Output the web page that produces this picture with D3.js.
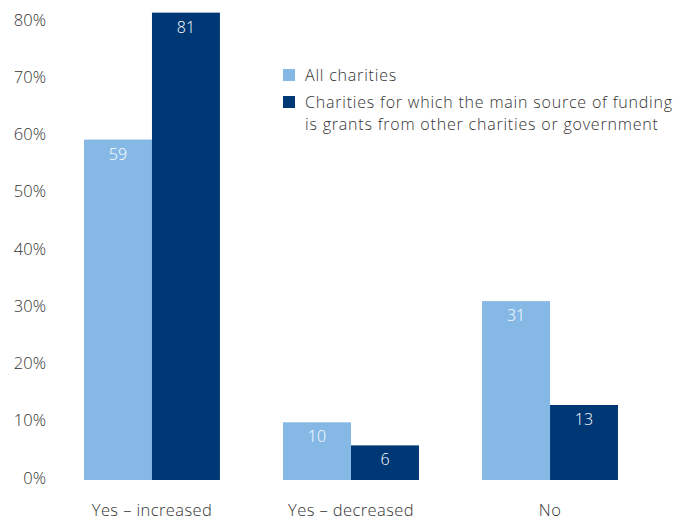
<!DOCTYPE html>
<html>
<head>
<meta charset="utf-8">
<script src="https://cdn.jsdelivr.net/npm/d3@7"></script>
<style>
  html, body { margin: 0; padding: 0; background: #fff; }
  svg { display: block; }
  text { font-family: "Open Sans", sans-serif; font-weight: 300; }
</style>
</head>
<body>
<svg id="chart" width="674" height="523"></svg>
<script>
// Funding change responses, percentages
const categories = ["Yes – increased", "Yes – decreased", "No"];
const seriesNames = [
  "All charities",
  "Charities for which the main source of funding is grants from other charities or government"
];
const allCharities = [59, 10, 31];
const grantFunded = [81, 6, 13];
const yTicks = [0, 10, 20, 30, 40, 50, 60, 70, 80];

const colors = ["#86b8e6", "#003876"];
const series = [allCharities, grantFunded];

const svg = d3.select("#chart");

const x = d3.scaleBand()
  .domain(categories)
  .range([84, 618])
  .paddingInner(0.317)
  .paddingOuter(0);

const xInner = d3.scaleBand()
  .domain(d3.range(series.length))
  .range([0, x.bandwidth()]);

const y = d3.scaleLinear()
  .domain([0, 80])
  .range([480, 18.4]);

// Y axis labels only (no line, no ticks)
const yAxis = d3.axisLeft(y)
  .tickValues(yTicks)
  .tickFormat(d => d + "%")
  .tickSize(0)
  .tickPadding(0);

svg.append("g")
  .attr("transform", "translate(46,0)")
  .call(yAxis)
  .call(g => g.select(".domain").remove())
  .call(g => g.selectAll("text")
    .attr("fill", "#333")
    .style("font-size", "16.5px")
    .style("font-family", "'Open Sans', sans-serif")
    .style("font-weight", "300"))
  .call(g => g.selectAll(".tick").attr("transform", d => `translate(0,${y(d) - 1.6 + d * 0.045})`));

// X axis labels
const xAxis = d3.axisBottom(x).tickSize(0).tickPadding(0);
svg.append("g")
  .attr("transform", "translate(0,504)")
  .call(xAxis)
  .call(g => g.select(".domain").remove())
  .call(g => g.selectAll("text")
    .attr("fill", "#333")
    .style("font-size", "16.5px")
    .style("letter-spacing", "0.4px")
    .style("font-family", "'Open Sans', sans-serif")
    .style("font-weight", "300"));

// Bars and value labels
const rows = categories.map((c, i) => ({
  category: c,
  values: series.map((s, j) => ({ j, v: s[i] }))
}));

const groups = svg.append("g")
  .selectAll("g")
  .data(rows)
  .join("g")
  .attr("transform", d => `translate(${x(d.category)},0)`);

groups.selectAll("rect")
  .data(d => d.values)
  .join("rect")
  .attr("x", d => xInner(d.j))
  .attr("width", xInner.bandwidth())
  .attr("y", d => y(d.v))
  .attr("height", d => y(0) - y(d.v))
  .attr("fill", d => colors[d.j]);

groups.selectAll("text.val")
  .data(d => d.values)
  .join("text")
  .attr("class", "val")
  .attr("x", d => xInner(d.j) + xInner.bandwidth() / 2)
  .attr("y", d => y(d.v) + 14.5)
  .attr("dy", "0.35em")
  .attr("text-anchor", "middle")
  .attr("fill", "#fff")
  .style("font-size", "16px")
  .text(d => d.v);

// Legend
const legendLines = [
  [seriesNames[0]],
  ["Charities for which the main source of funding", "is grants from other charities or government"]
];
const legend = svg.append("g").attr("transform", "translate(283,0)");
const legendTop = [75, 102];
legendLines.forEach((lines, i) => {
  legend.append("rect")
    .attr("x", 0)
    .attr("y", legendTop[i] - 6)
    .attr("width", 12)
    .attr("height", 12)
    .attr("fill", colors[i]);
  lines.forEach((ln, k) => {
    legend.append("text")
      .attr("x", 22)
      .attr("y", legendTop[i] + k * 22)
      .attr("dy", "0.35em")
      .attr("fill", "#333")
      .style("font-size", "16px")
      .style("letter-spacing", "0.8px")
      .text(ln);
  });
});
</script>
</body>
</html>
